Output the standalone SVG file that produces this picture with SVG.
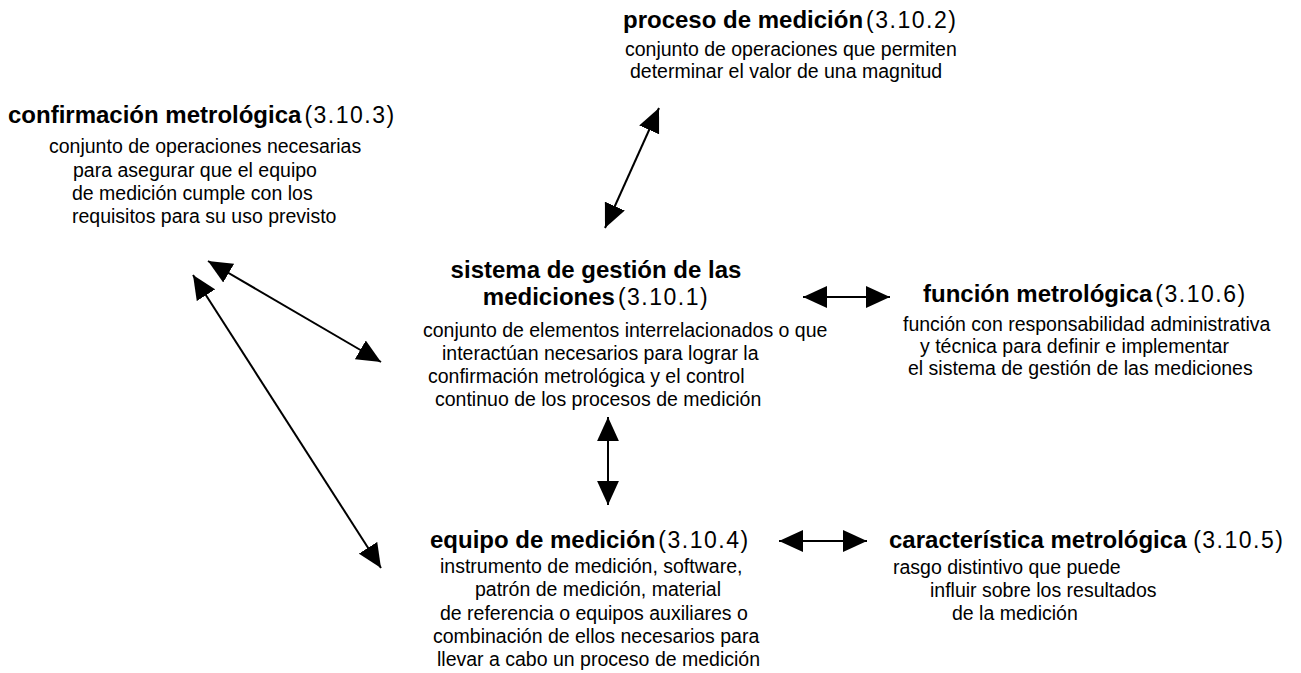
<svg xmlns="http://www.w3.org/2000/svg" width="1301" height="673" viewBox="0 0 1301 673">
<style>
text{font-family:"Liberation Sans",Arial,sans-serif;fill:#000}
.t{font-size:24px;font-weight:bold}
.n{font-size:23px;font-weight:normal;letter-spacing:1.5px}
.b{font-size:19.5px}
.c{text-anchor:middle}
.ln{stroke:#000;stroke-width:2;fill:none;marker-start:url(#ah);marker-end:url(#ah)}
</style>
<defs>
<marker id="ah" markerUnits="userSpaceOnUse" markerWidth="24" markerHeight="22" refX="22" refY="10" orient="auto-start-reverse" viewBox="0 0 22 20">
<path d="M0,0 L22,10 L0,20 z" fill="#000"/>
</marker>
</defs>
<rect width="1301" height="673" fill="#fff"/>
<g id="proceso">
<text x="623" y="28" class="t">proceso de medición<tspan class="n" dx="3">(3.10.2)</tspan></text>
<text x="625" y="56" class="b">conjunto de operaciones que permiten</text>
<text x="630" y="78" class="b">determinar el valor de una magnitud</text>
</g>
<g id="confirmacion">
<text x="8" y="123" class="t">confirmación metrológica<tspan class="n" dx="3">(3.10.3)</tspan></text>
<text x="49" y="153" class="b">conjunto de operaciones necesarias</text>
<text x="73" y="177" class="b">para asegurar que el  equipo</text>
<text x="72" y="200" class="b">de medición cumple con los</text>
<text x="72" y="223" class="b">requisitos para su uso previsto</text>
</g>
<g id="sistema">
<text x="596" y="278" class="t c">sistema de gestión de las</text>
<text x="596" y="305" class="t c">mediciones<tspan class="n" dx="3">(3.10.1)</tspan></text>
<text x="423" y="337" class="b">conjunto de elementos interrelacionados o que</text>
<text x="442" y="360" class="b">interactúan necesarios para  lograr la</text>
<text x="428" y="383" class="b">confirmación metrológica  y el control</text>
<text x="435" y="406" class="b">continuo de los procesos de medición</text>
</g>
<g id="funcion">
<text x="923" y="302" class="t">función metrológica<tspan class="n" dx="3">(3.10.6)</tspan></text>
<text x="903" y="331" class="b">función con responsabilidad administrativa</text>
<text x="920" y="353" class="b">y técnica para definir e implementar</text>
<text x="908" y="375" class="b">el sistema de gestión de las mediciones</text>
</g>
<g id="equipo">
<text x="430" y="548" class="t">equipo de medición<tspan class="n" dx="3">(3.10.4)</tspan></text>
<text x="440" y="573" class="b">instrumento de medición, software,</text>
<text x="475" y="596" class="b">patrón de medición, material</text>
<text x="440" y="620" class="b">de referencia o equipos auxiliares o</text>
<text x="433" y="643" class="b">combinación de ellos necesarios para</text>
<text x="437" y="666" class="b">llevar a cabo un proceso de medición</text>
</g>
<g id="caracteristica">
<text x="889" y="548" class="t">característica metrológica <tspan class="n">(3.10.5)</tspan></text>
<text x="893" y="574" class="b">rasgo distintivo que puede</text>
<text x="930" y="597" class="b">influir sobre los resultados</text>
<text x="952" y="620" class="b">de la medición</text>
</g>
<g id="connectors">
<line class="ln" x1="659" y1="108" x2="605" y2="228"/>
<line class="ln" x1="208" y1="261" x2="381" y2="362"/>
<line class="ln" x1="193" y1="275" x2="381" y2="568"/>
<line class="ln" x1="608" y1="417" x2="608" y2="505"/>
<line class="ln" x1="803" y1="297" x2="890" y2="297"/>
<line class="ln" x1="779" y1="541" x2="867" y2="541"/>
</g>
</svg>
